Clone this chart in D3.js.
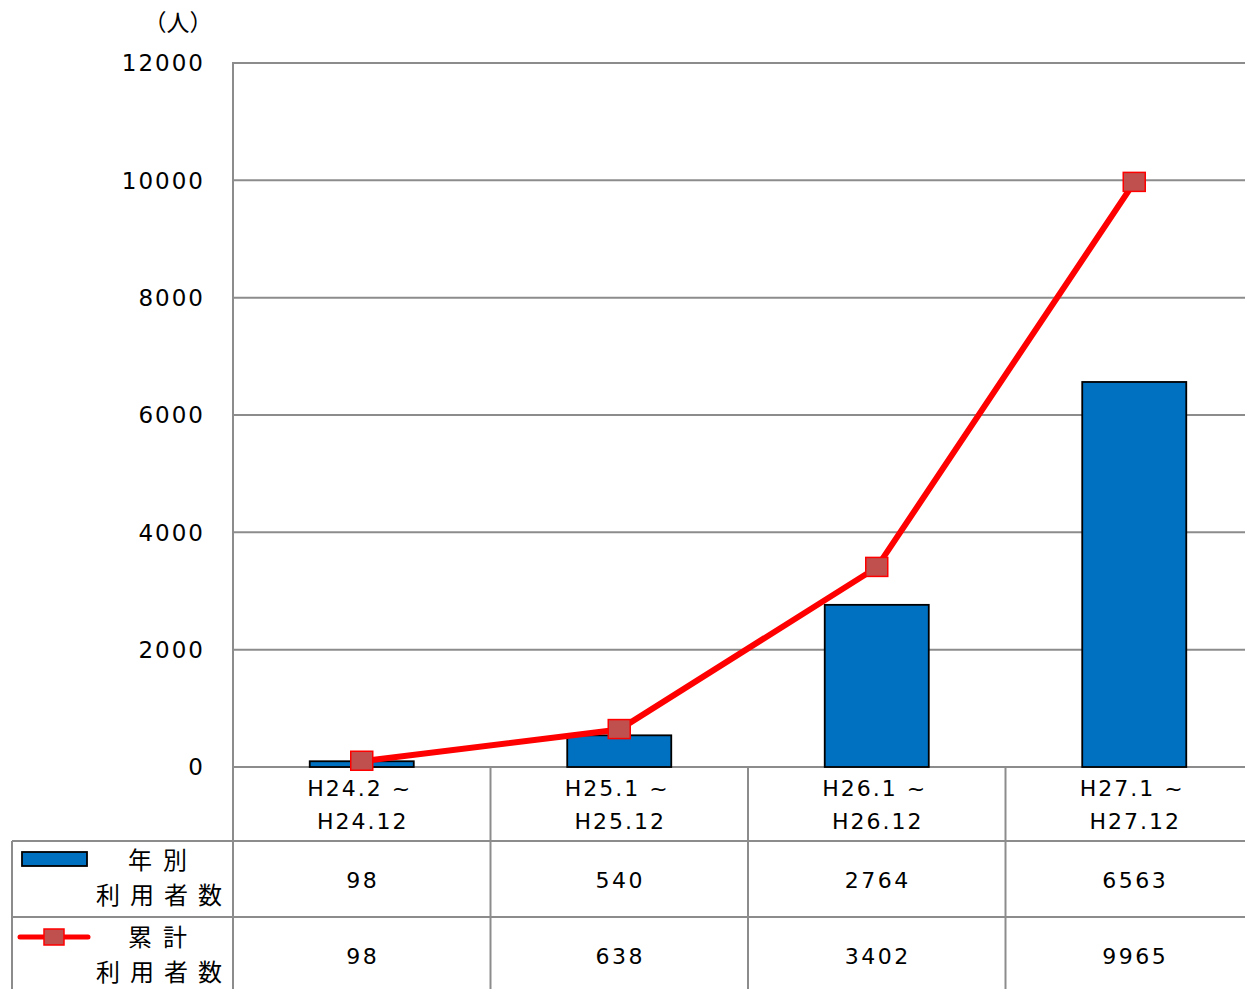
<!DOCTYPE html>
<html><head><meta charset="utf-8">
<script src="https://cdn.jsdelivr.net/npm/d3@7/dist/d3.min.js"></script>
<style>body{margin:0;background:#fff;}svg{display:block;}</style>
</head><body>
<svg id="c" width="1245" height="989"></svg>
<script>
const categories1 = ["H24.2 ~", "H25.1 ~", "H26.1 ~", "H27.1 ~"];
const categories2 = ["H24.12", "H25.12", "H26.12", "H27.12"];
const annual = [98, 540, 2764, 6563];
const cumulative = [98, 638, 3402, 9965];
const yTicks = [0, 2000, 4000, 6000, 8000, 10000, 12000];
const seriesNames = [["年別", "利用者数"], ["累計", "利用者数"]];
const unitLabel = "（人）";

(function () {
const svg = d3.select("#c");
const pLeft = 233, pTop = 63, pBottom = 767, step = 257.5;
const x = d3.scaleBand().domain(d3.range(categories1.length)).range([pLeft, pLeft + step * 4]).paddingInner(0.596).paddingOuter(0.298);
const xb = d3.scaleBand().domain(d3.range(categories1.length)).range([pLeft, pLeft + step * 4]);
const y = d3.scaleLinear().domain([0, 12000]).range([pBottom, pTop]);
const grid = "#8c8c8c";
const font = "DejaVu Sans, Verdana, sans-serif";
const cjk = "Noto Sans CJK JP, sans-serif";

svg.append("g").selectAll("line").data(yTicks).join("line")
  .attr("x1", pLeft).attr("x2", 1245).attr("y1", d => y(d)).attr("y2", d => y(d))
  .attr("stroke", grid).attr("stroke-width", 2);
svg.append("line").attr("x1", pLeft).attr("x2", pLeft).attr("y1", pTop - 1).attr("y2", 989).attr("stroke", grid).attr("stroke-width", 2);

svg.append("g").selectAll("text").data(yTicks).join("text")
  .attr("x", 205).attr("y", d => y(d)).attr("dy", "0.36em").attr("text-anchor", "end")
  .attr("font-family", font).attr("font-size", 23).attr("letter-spacing", 2).attr("fill", "#000")
  .text(d => d);
svg.append("text").attr("x", 178).attr("y", 31).attr("text-anchor", "middle")
  .attr("font-family", cjk).attr("font-size", 23).text(unitLabel);

svg.append("g").selectAll("rect").data(annual).join("rect")
  .attr("x", (d, i) => x(i)).attr("width", x.bandwidth())
  .attr("y", d => y(d)).attr("height", d => y(0) - y(d))
  .attr("fill", "#0070C0").attr("stroke", "#000").attr("stroke-width", 1.8);

const cx = i => xb(i) + xb.bandwidth() / 2;
svg.append("path").datum(cumulative)
  .attr("d", d3.line().x((d, i) => cx(i)).y(d => y(d)))
  .attr("fill", "none").attr("stroke", "#FF0000").attr("stroke-width", 6);
svg.append("g").selectAll("rect").data(cumulative).join("rect")
  .attr("x", (d, i) => cx(i) - 11).attr("y", d => y(d) - 10).attr("width", 22).attr("height", 19)
  .attr("fill", "#C0504D").attr("stroke", "#FF0000").attr("stroke-width", 1.5);

const rows = [841, 917];
svg.append("g").selectAll("line").data(rows).join("line")
  .attr("x1", 12).attr("x2", 1245).attr("y1", d => d).attr("y2", d => d)
  .attr("stroke", grid).attr("stroke-width", 2);
svg.append("line").attr("x1", 12).attr("x2", 12).attr("y1", 841).attr("y2", 989).attr("stroke", grid).attr("stroke-width", 2);
svg.append("g").selectAll("line").data(d3.range(1, 4)).join("line")
  .attr("x1", i => xb(i)).attr("x2", i => xb(i)).attr("y1", pBottom).attr("y2", 989)
  .attr("stroke", grid).attr("stroke-width", 2);

const tx = (sel, s) => sel.attr("font-family", font).attr("font-size", 22).attr("letter-spacing", s).attr("text-anchor", "middle").attr("fill", "#000");
svg.append("g").selectAll("text").data(categories1).join("text")
  .attr("x", (d, i) => cx(i) - 2).attr("y", 796).call(tx, 2).text(d => d);
svg.append("g").selectAll("text").data(categories2).join("text")
  .attr("x", (d, i) => cx(i) + 1).attr("y", 829).call(tx, 2).text(d => d);
svg.append("g").selectAll("text").data(annual).join("text")
  .attr("x", (d, i) => cx(i) + 1).attr("y", 888).call(tx, 2.5).text(d => d);
svg.append("g").selectAll("text").data(cumulative).join("text")
  .attr("x", (d, i) => cx(i) + 1).attr("y", 964).call(tx, 2.5).text(d => d);

svg.append("rect").attr("x", 22).attr("y", 852).attr("width", 65).attr("height", 14)
  .attr("fill", "#0070C0").attr("stroke", "#000").attr("stroke-width", 1.8);
svg.append("line").attr("x1", 20).attr("x2", 88).attr("y1", 937).attr("y2", 937)
  .attr("stroke", "#FF0000").attr("stroke-width", 5).attr("stroke-linecap", "round");
svg.append("rect").attr("x", 44).attr("y", 929).attr("width", 20).attr("height", 16)
  .attr("fill", "#C0504D").attr("stroke", "#FF0000").attr("stroke-width", 1.5);

const rowY = [[869, 904], [946, 981]];
seriesNames.forEach((names, r) => {
  svg.append("text").attr("x", 128).attr("y", rowY[r][0]).attr("font-family", cjk).attr("font-size", 24)
    .attr("letter-spacing", 11).text(names[0]);
  svg.append("text").attr("x", 96).attr("y", rowY[r][1]).attr("font-family", cjk).attr("font-size", 24)
    .attr("letter-spacing", 10).text(names[1]);
});
})();
</script>
</body></html>
